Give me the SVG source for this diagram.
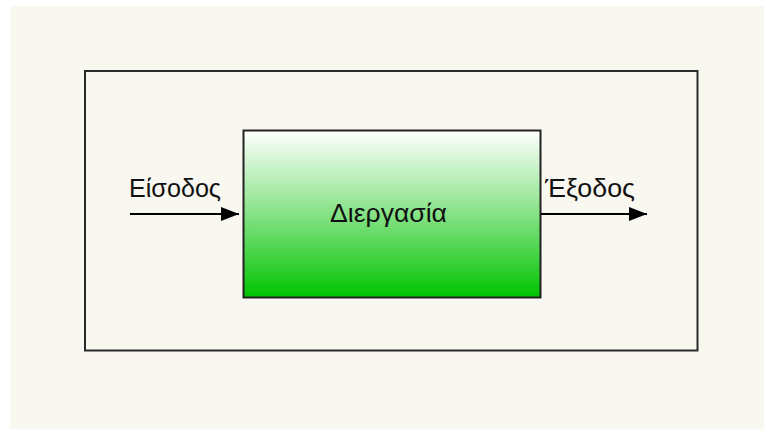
<svg xmlns="http://www.w3.org/2000/svg" width="764" height="429" viewBox="0 0 764 429">
  <defs>
    <linearGradient id="procFill" x1="0" y1="0" x2="0" y2="1">
      <stop offset="0" stop-color="#ffffff"/>
      <stop offset="0.5" stop-color="#86e286"/>
      <stop offset="1" stop-color="#00c400"/>
    </linearGradient>
    <marker id="arrow" viewBox="0 0 18 14" refX="18" refY="7" markerWidth="18" markerHeight="14" markerUnits="userSpaceOnUse" orient="auto">
      <path d="M0,0 L18,7 L0,14 Z" fill="#000"/>
    </marker>
    <style>
      .label { font-family: "Liberation Sans", Arial, sans-serif; font-size: 25px; fill: #111; }
      .frame { fill: none; stroke: #2b2b2b; stroke-width: 2; }
      .flow { fill: none; stroke: #000; stroke-width: 2; marker-end: url(#arrow); }
    </style>
  </defs>

  <rect x="0" y="0" width="764" height="429" fill="#ffffff"/>
  <rect x="10" y="6" width="754" height="423" fill="#f8f7f0"/>

  <g id="system">
    <rect class="frame" x="85" y="71" width="612.5" height="279.5"/>
  </g>

  <g id="process">
    <rect x="243.5" y="130.5" width="297" height="167" fill="url(#procFill)" stroke="#222" stroke-width="2"/>
    <text class="label" x="330" y="222" textLength="117" lengthAdjust="spacingAndGlyphs">Διεργασία</text>
  </g>

  <g id="input">
    <text class="label" x="129" y="197" textLength="92" lengthAdjust="spacingAndGlyphs">Είσοδος</text>
  </g>

  <g id="output">
    <text class="label" x="545" y="197" textLength="90" lengthAdjust="spacingAndGlyphs">Έξοδος</text>
  </g>

  <g id="connectors">
    <line class="flow" x1="130" y1="214" x2="239" y2="214"/>
    <line class="flow" x1="541" y1="214" x2="647" y2="214"/>
  </g>
</svg>
